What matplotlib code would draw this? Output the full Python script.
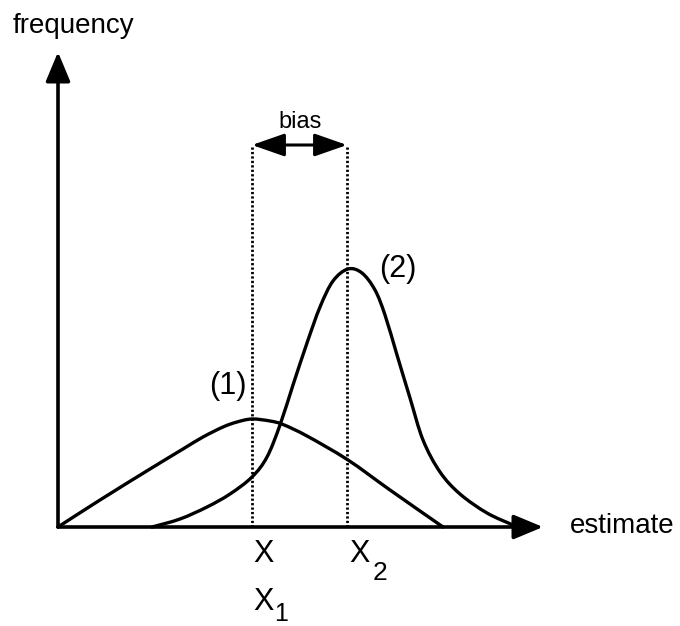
import matplotlib.pyplot as plt
from matplotlib.patches import FancyArrowPatch, PathPatch
from matplotlib.path import Path

plt.rcParams['font.family'] = ['Liberation Sans', 'DejaVu Sans']

# Curve (1): wide, unbiased estimator (estimate, frequency)
curve1_x = [0, 42, 92, 125, 145, 165, 179, 194, 212, 225, 249, 290, 332, 385]
curve1_y = [0, 27, 58, 78, 90, 100, 105, 108, 106, 102.5, 91, 67, 37, 0]

# Curve (2): narrow, biased estimator
curve2_x = [94, 122, 149, 172, 194, 209, 222, 235, 249, 262, 275, 290, 304,
            317, 327, 339, 352, 365, 382, 402, 429, 455]
curve2_y = [0, 8, 20, 33, 50, 70, 102, 142, 184, 220, 246, 258, 254,
            237, 212, 172, 129, 87, 55, 33, 14, 2]

# Means of the two distributions
x1_mean = 194
x2_mean = 289

# Axis extents
x_axis_end = 485
y_axis_end = 475
guide_top = 382


def smooth_path(xs, ys):
    # Catmull-Rom through the read points, drawn as cubic Bezier segments
    pts = list(zip(xs, ys))
    verts = [pts[0]]
    codes = [Path.MOVETO]
    n = len(pts)
    for i in range(n - 1):
        p0 = pts[max(i - 1, 0)]
        p1 = pts[i]
        p2 = pts[i + 1]
        p3 = pts[min(i + 2, n - 1)]
        c1 = (p1[0] + (p2[0] - p0[0]) / 6, p1[1] + (p2[1] - p0[1]) / 6)
        c2 = (p2[0] - (p3[0] - p1[0]) / 6, p2[1] - (p3[1] - p1[1]) / 6)
        verts += [c1, c2, p2]
        codes += [Path.CURVE4] * 3
    return Path(verts, codes)


fig = plt.figure(figsize=(6.8, 6.26), dpi=100)
ax = fig.add_axes([0, 0, 1, 1])
ax.set_xlim(-58, 622)
ax.set_ylim(-99, 527)
ax.axis('off')

# Axes with arrow heads
axis_style = "-|>,head_length=1.8,head_width=0.75"
for end in [(x_axis_end, 0), (0, y_axis_end)]:
    ax.add_patch(FancyArrowPatch((0, 0), end, arrowstyle=axis_style,
                                 mutation_scale=10, color='black', lw=2.6,
                                 shrinkA=0, shrinkB=0))

# Dotted guides at the two means
for xm in [x1_mean, x2_mean]:
    ax.plot([xm, xm], [0, guide_top], color='black', lw=2.0,
            linestyle=(0, (0.8, 0.8)))

# Bias arrow
ax.add_patch(FancyArrowPatch((x1_mean, guide_top), (x2_mean, guide_top),
                             arrowstyle="<|-|>,head_length=2.0,head_width=0.7",
                             mutation_scale=10, color='black', lw=2.2,
                             shrinkA=0, shrinkB=0))

# The two distributions
for cx, cy in [(curve1_x, curve1_y), (curve2_x, curve2_y)]:
    ax.add_patch(PathPatch(smooth_path(cx, cy), facecolor='none',
                           edgecolor='black', lw=2.4, joinstyle='round',
                           capstyle='round'))

# Labels
ax.text(-45, 494, 'frequency', fontsize=20, ha='left', va='baseline')
ax.text(512, -6, 'estimate', fontsize=20, ha='left', va='baseline')
ax.text(242, 399, 'bias', fontsize=17, ha='center', va='baseline')
ax.text(170, 133, '(1)', fontsize=22, ha='center', va='baseline')
ax.text(340, 250, '(2)', fontsize=22, ha='center', va='baseline')

ax.text(205, -35, 'X', fontsize=22, ha='center', va='baseline')
ax.text(302, -35, 'X', fontsize=22, ha='center', va='baseline')
ax.text(322, -53, '2', fontsize=19, ha='center', va='baseline')
ax.text(205, -83, 'X', fontsize=22, ha='center', va='baseline')
ax.text(223, -94, '1', fontsize=18, ha='center', va='baseline')

plt.savefig('out.png', dpi=100, facecolor='white')
plt.close()
